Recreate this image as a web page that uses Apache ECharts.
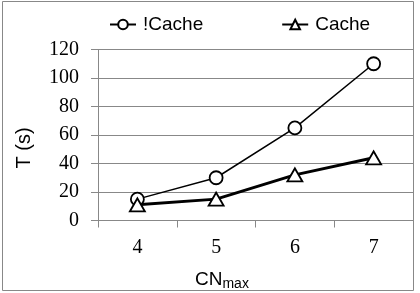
<!DOCTYPE html>
<html><head><meta charset="utf-8">
<script src="https://cdn.jsdelivr.net/npm/echarts@6/dist/echarts.min.js"></script>
<style>html,body{margin:0;padding:0;background:#fff}#c{width:420px;height:293px}</style>
</head><body><div id="c"></div>
<script>
var categories = ['4', '5', '6', '7'];
var noCache = [15, 30, 65, 110];
var cache = [11, 15, 32, 44];
var yTicks = { min: 0, max: 120, interval: 20 };
var xTitle = { main: 'CN', sub: 'max' };
var yTitle = 'T (s)';

var chart = echarts.init(document.getElementById('c'), null, { renderer: 'canvas' });
chart.setOption({
  animation: false,
  backgroundColor: '#fff',
  graphic: [{
    type: 'rect', shape: { x: 2.5, y: 1.5, width: 411, height: 289 },
    style: { fill: 'none', stroke: '#888', lineWidth: 1 }, silent: true
  }, {
    type: 'text', x: 24, y: 148, rotation: Math.PI / 2, silent: true,
    style: { text: yTitle, fontFamily: 'Liberation Sans', fontSize: 20, fill: '#000',
             align: 'center', verticalAlign: 'middle' }
  }, {
    type: 'text', x: 195, y: 280, silent: true,
    style: { text: '{a|' + xTitle.main + '}{b|' + xTitle.sub + '}', verticalAlign: 'middle',
      rich: {
        a: { fontFamily: 'Liberation Sans', fontSize: 19, fill: '#000', color: '#000' },
        b: { fontFamily: 'Liberation Sans', fontSize: 14, fill: '#000', color: '#000', padding: [9, 0, 0, 0] }
      } }
  }],
  legend: {
    top: 10, left: 104, itemGap: 78, itemWidth: 26, itemHeight: 12,
    textStyle: { fontFamily: 'Liberation Sans', fontSize: 19, color: '#000', padding: [0,0,0,2] },
    data: ['!Cache', 'Cache']
  },
  grid: { left: 98, right: 7, top: 49.5, bottom: 72.5, containLabel: false },
  xAxis: {
    type: 'category', data: categories, boundaryGap: true,
    axisLine: { lineStyle: { color: '#888', width: 1 } },
    axisTick: { show: true, length: 7, lineStyle: { color: '#888' } },
    axisLabel: { fontFamily: 'Liberation Serif', fontSize: 20, color: '#000', margin: 17 }
  },
  yAxis: {
    type: 'value', min: yTicks.min, max: yTicks.max, interval: yTicks.interval,
    axisLine: { show: true, lineStyle: { color: '#888', width: 1 } },
    axisTick: { show: true, length: 7, lineStyle: { color: '#888' } },
    splitLine: { show: true, lineStyle: { color: '#888', width: 1 } },
    axisLabel: { fontFamily: 'Liberation Serif', fontSize: 20, color: '#000', margin: 19 }
  },
  series: [{
    name: '!Cache', type: 'line', data: noCache,
    symbol: 'circle', symbolSize: 13, showAllSymbol: true,
    lineStyle: { color: '#000', width: 1.5 },
    itemStyle: { color: '#fff', borderColor: '#000', borderWidth: 1.8 }
  }, {
    name: 'Cache', type: 'line', data: cache,
    symbol: 'triangle', symbolSize: [15, 13], showAllSymbol: true,
    lineStyle: { color: '#000', width: 3 },
    itemStyle: { color: '#fff', borderColor: '#000', borderWidth: 1.8 }
  }]
});
</script></body></html>
